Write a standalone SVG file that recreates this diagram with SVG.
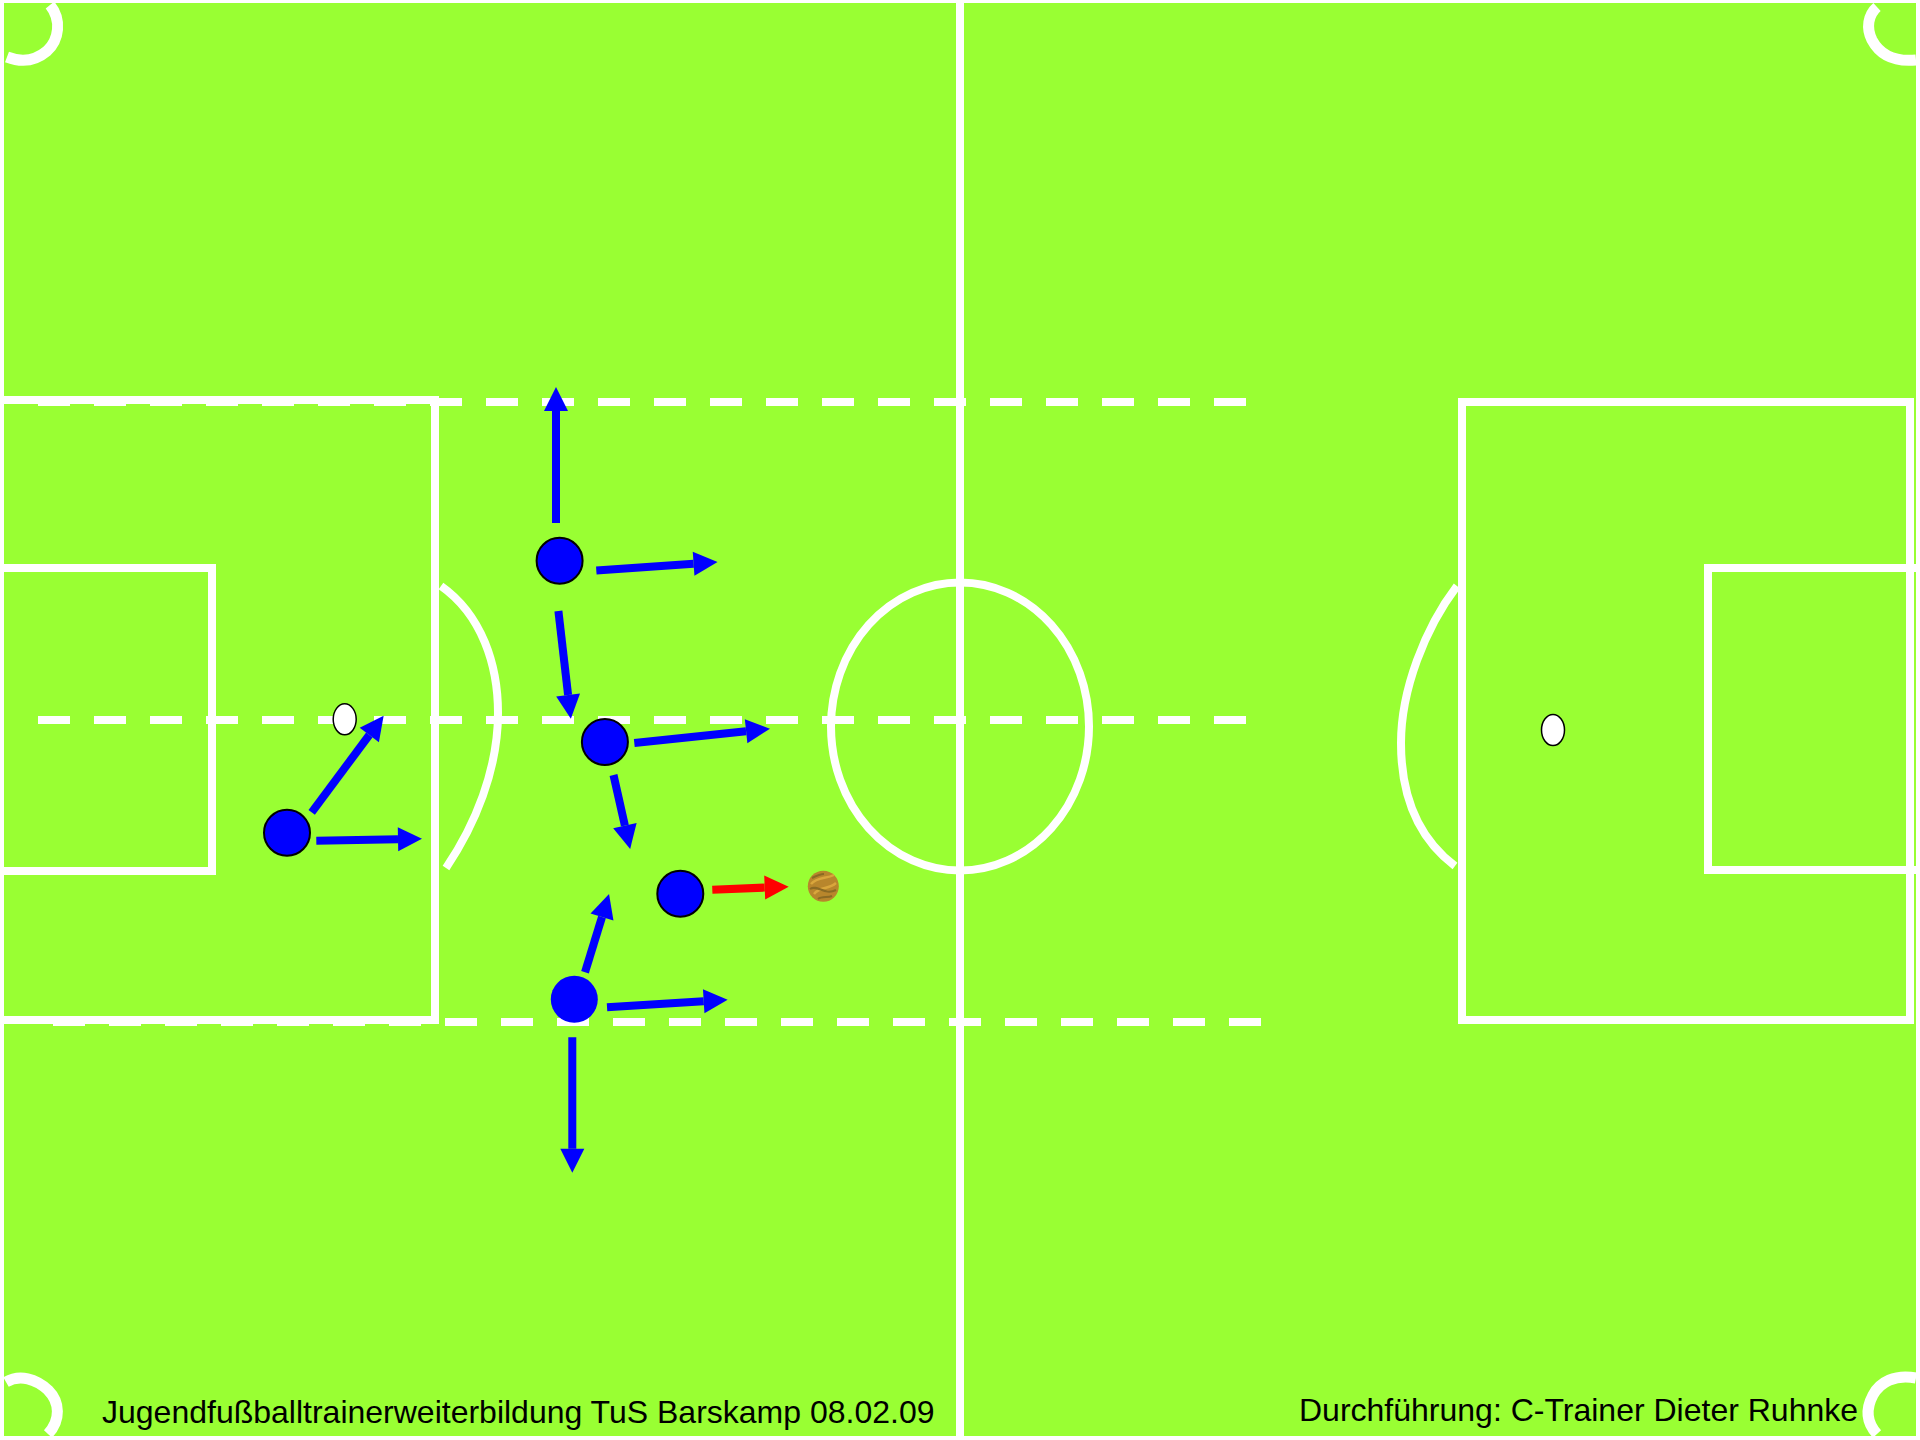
<svg xmlns="http://www.w3.org/2000/svg" width="1920" height="1440" viewBox="0 0 1920 1440">
<style>
.l{fill:none;stroke:#fff;stroke-width:8}
.c{fill:none;stroke:#fff;stroke-width:11}
.d{fill:none;stroke:#fff;stroke-width:8;stroke-dasharray:32 24}
.p{fill:#00f;stroke:#000;stroke-width:2}
.q{fill:#00f}
.g{fill:#fff;stroke:#000;stroke-width:1.5}
.a{stroke:#00f;stroke-width:8;fill:none;marker-end:url(#ab)}
.r{stroke:#f00;stroke-width:8;fill:none;marker-end:url(#ar)}
text{font-family:"Liberation Sans",Arial,sans-serif;font-size:32px;fill:#000}
</style>
<defs>
<marker id="ab" markerUnits="userSpaceOnUse" markerWidth="25" markerHeight="25" refX="0" refY="12" orient="auto" overflow="visible"><path d="M0,0L24,12L0,24Z" fill="#00f"/></marker>
<marker id="ar" markerUnits="userSpaceOnUse" markerWidth="25" markerHeight="25" refX="0" refY="12" orient="auto" overflow="visible"><path d="M0,0L24,12L0,24Z" fill="#f00"/></marker>
</defs>
<rect width="1920" height="1440" fill="#fff"/>
<rect x="4" y="3" width="1912" height="1433" fill="#9f3"/>
<g id="pitch">
<path class="l" d="M960,0V1440"/>
<ellipse class="l" cx="960" cy="726.500" rx="129" ry="144"/>
<path class="l" d="M3,400H435V1020H3"/>
<path class="l" d="M3,568H212V871H3"/>
<rect class="l" x="1462" y="402" width="448" height="618"/>
<path class="l" d="M1920,568H1708V870H1920"/>
<path class="l" d="M441,586C482,615 498,665 498,713C498,770 475,825 446,868"/>
<path class="l" d="M1457,586C1425,628 1401,690 1401,743C1401,795 1418,838 1455,866"/>
<path class="c" d="M50,5C62,20 59,40 47,51C34,62 20,62 7,57"/>
<path class="c" d="M1877,7C1868,15 1866,28 1872,40C1880,55 1895,62 1916,60"/>
<path class="c" d="M6,1382C20,1374 36,1379 48,1390C60,1402 61,1420 48,1434"/>
<path class="c" d="M1916,1378C1895,1374 1880,1382 1873,1395C1865,1410 1867,1423 1877,1434"/>
<path class="d" d="M38,402H1246"/>
<path class="d" d="M38,720H1246"/>
<path class="d" d="M53,1022H1261"/>
</g>
<g id="connectors">
<path class="a" d="M311.700,812.300L369.300,735"/>
<path class="a" d="M316.300,840.700L398,839.200"/>
<path class="a" d="M556,523V411"/>
<path class="a" d="M596.300,570.600L693.600,563.700"/>
<path class="a" d="M558.400,611L568.100,695"/>
<path class="a" d="M634.300,743L746.100,731.200"/>
<path class="a" d="M613.500,775L624.900,825.600"/>
<path class="a" d="M585,972.300L602,917"/>
<path class="a" d="M607,1007.300L703.700,1001.200"/>
<path class="a" d="M572.300,1037.300V1148.700"/>
<path class="r" d="M712.300,889.700L764.700,887.600"/>
</g>
<g id="goalkeeper-marker-left"><ellipse class="g" cx="344.700" cy="719.300" rx="11.500" ry="15.500"/></g>
<g id="goalkeeper-marker-right"><ellipse class="g" cx="1553" cy="730" rx="11.500" ry="15.500"/></g>
<g id="player-1"><circle class="p" cx="287" cy="832.700" r="23"/></g>
<g id="player-2"><circle class="p" cx="559.600" cy="560.800" r="23"/></g>
<g id="player-3"><circle class="p" cx="604.900" cy="742" r="23"/></g>
<g id="player-4"><circle class="p" cx="680.300" cy="893.700" r="23"/></g>
<g id="player-5"><circle class="q" cx="574.300" cy="999.300" r="23.500"/></g>
<g id="ball">
<circle cx="823.300" cy="886.300" r="15.500" fill="#b8862c"/>
<path d="M811,884C817,877 826,879 834,875M814,894C820,886 828,890 836,883" fill="none" stroke="#d9a63c" stroke-width="2.500"/>
<path d="M810,889C818,884 824,896 836,890M818,899C822,896 828,898 832,896M812,878C816,876 820,874 824,874" fill="none" stroke="#8a6a24" stroke-width="2"/>
</g>
<g id="captions">
<text x="102" y="1423">Jugendfußballtrainerweiterbildung TuS Barskamp 08.02.09</text>
<text x="1299" y="1421">Durchführung: C-Trainer Dieter Ruhnke</text>
</g>
</svg>
